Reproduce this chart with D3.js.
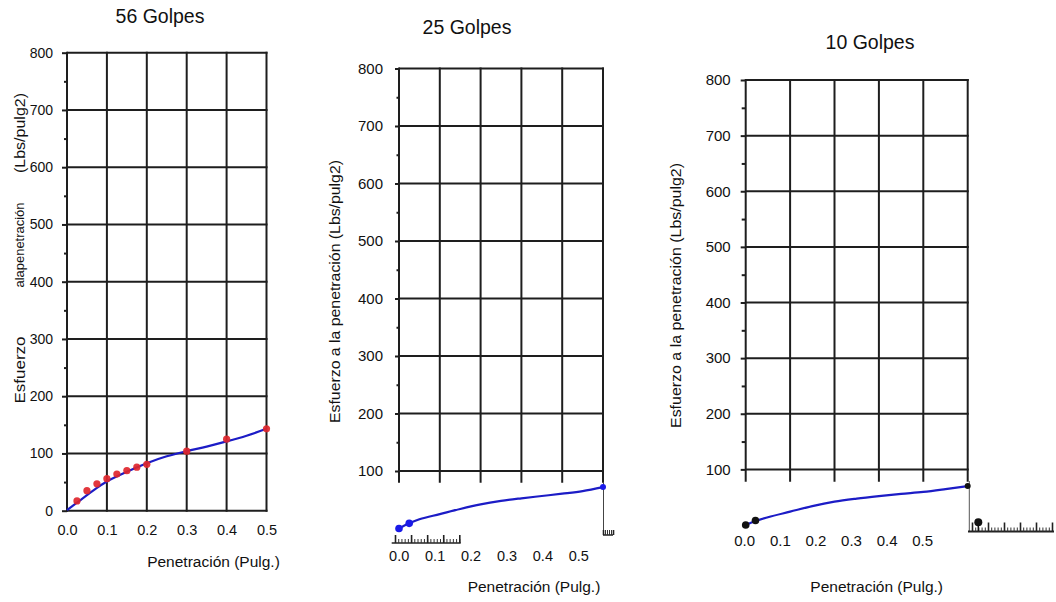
<!DOCTYPE html>
<html><head><meta charset="utf-8">
<script src="https://cdn.jsdelivr.net/npm/d3@7"></script>
<style>
body{margin:0;background:#fff}
svg{display:block}
text{font-family:"Liberation Sans",Arial,sans-serif;fill:#111}
</style>
</head><body>
<svg id="c" width="1056" height="602"></svg>
<script>
// ---------- data ----------
const titles = ["56 Golpes", "25 Golpes", "10 Golpes"];
const xTicks = [0, 0.1, 0.2, 0.3, 0.4, 0.5];
const yTicksFull = [0, 100, 200, 300, 400, 500, 600, 700, 800];
const yTicksCut = [100, 200, 300, 400, 500, 600, 700, 800];
const yMinorFull = [50, 150, 250, 350, 450, 550, 650, 750];
const yMinorCut = [150, 250, 350, 450, 550, 650, 750];
const xTitle = "Penetración (Pulg.)";
const yTitle = "Esfuerzo a la penetración (Lbs/pulg2)";
const yTitle56 = ["Esfuerzo", "alapenetración", "(Lbs/pulg2)"];

// 56 golpes: measured points and fitted curve
const pen56 = [0.025, 0.05, 0.075, 0.1, 0.125, 0.15, 0.175, 0.2, 0.3, 0.4, 0.5];
const esf56 = [17, 35, 47, 56, 64, 70, 76, 81, 104, 125, 143];
const curvePen56 = [0, 0.025, 0.05, 0.075, 0.1, 0.15, 0.2, 0.25, 0.3, 0.35, 0.4, 0.45, 0.5];
const curveEsf56 = [1, 14, 27, 40, 51, 68, 83, 95, 104, 112, 121, 131, 143];

// 25 golpes
const pen25 = [0, 0.025, 0.5];
const esf25 = [0, 9, 72];
const curvePen25 = [0, 0.025, 0.05, 0.1, 0.15, 0.2, 0.25, 0.3, 0.35, 0.4, 0.45, 0.5];
const curveEsf25 = [0, 9, 16, 25, 34, 42, 48, 52.5, 56.5, 60.5, 65, 72];

// 10 golpes
const pen10 = [0, 0.022, 0.5];
const esf10 = [0, 8, 70];
const curvePen10 = [0, 0.025, 0.05, 0.1, 0.15, 0.2, 0.25, 0.3, 0.35, 0.4, 0.45, 0.5];
const curveEsf10 = [0, 8, 14, 24, 34, 42, 47.5, 52, 56, 59.5, 64.5, 70];

// ---------- drawing ----------
const svg = d3.select("#c");
const GRID = "#1e1e1e";
const BLUE = "#1c1cc6";

function zip(a, b) { return a.map((v, i) => [v, b[i]]); }

function styleAxis(g) {
  g.select(".domain").remove();
  g.selectAll(".tick line").attr("stroke", GRID).attr("stroke-width", 2);
}

function panel(cfg) {
  const g = svg.append("g");
  const x = d3.scaleLinear().domain([0, 0.5]).range(cfg.xr);
  const y = d3.scaleLinear().domain([0, 800]).range(cfg.yr);

  g.append("text").attr("x", cfg.titleX).attr("y", cfg.titleY)
    .attr("text-anchor", "middle").style("font-size", "19.5px").text(cfg.title);

  g.append("g").selectAll("line").data(cfg.yTicks).join("line")
    .attr("x1", x(0)).attr("x2", x(0.5) + 1)
    .attr("y1", d => y(d)).attr("y2", d => y(d))
    .attr("stroke", GRID).attr("stroke-width", 2);
  g.append("g").selectAll("line").data(xTicks).join("line")
    .attr("x1", d => x(d)).attr("x2", d => x(d))
    .attr("y1", y(800) - 1).attr("y2", cfg.gridBottom)
    .attr("stroke", GRID).attr("stroke-width", 2);

  const ya = g.append("g").attr("transform", `translate(${x(0)},0)`)
    .call(d3.axisLeft(y).tickValues(cfg.yTicks).tickSize(cfg.tickLen)
      .tickPadding(cfg.tickPad).tickFormat(d3.format("d")));
  styleAxis(ya);
  ya.selectAll("text").style("font-size", cfg.yFont + "px").attr("fill", "#111");
  const ym = g.append("g").attr("transform", `translate(${x(0)},0)`)
    .call(d3.axisLeft(y).tickValues(cfg.minor).tickSize(cfg.minorLen).tickFormat(""));
  styleAxis(ym);

  return { g, x, y };
}

// decorative scale strip
function ruler(g, x0, x1, ext0, ext1, yBase, nMajor, perMajor, majLen, minLen, w) {
  const s = d3.scaleLinear().domain([0, nMajor]).range([x0, x1]);
  const minorVals = d3.range(0, nMajor * perMajor + 1).map(i => i / perMajor);
  const a = g.append("g").attr("transform", `translate(0,${yBase})`)
    .call(d3.axisTop(s).tickValues(minorVals).tickSize(minLen).tickFormat(""));
  a.select(".domain").attr("d", `M${ext0},0H${ext1}`).attr("stroke", "#222").attr("stroke-width", w);
  a.selectAll(".tick line").attr("stroke", "#333").attr("stroke-width", 1);
  const b = g.append("g").attr("transform", `translate(0,${yBase})`)
    .call(d3.axisTop(s).tickValues(d3.range(0, nMajor + 1)).tickSize(majLen).tickFormat(""));
  b.select(".domain").remove();
  b.selectAll(".tick line").attr("stroke", "#222").attr("stroke-width", 1.6);
}

// ---- Panel 1: 56 Golpes ----
{
  const { g, x, y } = panel({
    title: titles[0], titleX: 160, titleY: 23,
    xr: [67, 266.5], yr: [510.7, 52.7], gridBottom: 511.7,
    yTicks: yTicksFull, minor: yMinorFull, tickLen: 5, minorLen: 3, tickPad: 9, yFont: 14
  });
  const xa = g.append("g").attr("transform", `translate(0,${y(0)})`)
    .call(d3.axisBottom(x).tickValues(xTicks).tickSize(0).tickPadding(0).tickFormat(d3.format(".1f")));
  xa.select(".domain").remove();
  xa.selectAll("text").attr("dy", 0).attr("y", 24.5).style("font-size", "14.5px").attr("fill", "#111");

  g.append("text").attr("x", 213.5).attr("y", 567).attr("text-anchor", "middle")
    .style("font-size", "15.5px").text(xTitle);

  const yl = [
    { t: yTitle56[0], cy: 370, fs: 15, len: 67, bx: 24.5 },
    { t: yTitle56[1], cy: 245, fs: 12.5, len: 85, bx: 23.5 },
    { t: yTitle56[2], cy: 133, fs: 14.5, len: 80, bx: 24.5 }
  ];
  g.append("g").selectAll("text").data(yl).join("text")
    .attr("transform", d => `translate(${d.bx},${d.cy}) rotate(-90)`)
    .attr("text-anchor", "middle")
    .attr("textLength", d => d.len).attr("lengthAdjust", "spacingAndGlyphs")
    .style("font-size", d => d.fs + "px").text(d => d.t);

  const line = d3.line().x(d => x(d[0])).y(d => y(d[1])).curve(d3.curveMonotoneX);
  g.append("path").datum(zip(curvePen56, curveEsf56)).attr("d", line)
    .attr("fill", "none").attr("stroke", BLUE).attr("stroke-width", 2.2);
  g.append("g").selectAll("circle").data(zip(pen56, esf56)).join("circle")
    .attr("cx", d => x(d[0])).attr("cy", d => y(d[1])).attr("r", 3.6)
    .attr("fill", "#e0262c").attr("opacity", 0.92);
}

// ---- Panel 2: 25 Golpes ----
{
  const { g, x, y } = panel({
    title: titles[1], titleX: 467, titleY: 34.3,
    xr: [399, 603], yr: [528.5, 68.5], gridBottom: 482.7,
    yTicks: yTicksCut, minor: yMinorCut, tickLen: 4, minorLen: 2.5, tickPad: 12, yFont: 15
  });
  const xi = d3.scaleLinear().domain([0, 0.5]).range([398.7, 578.3]);
  const xa = g.append("g").attr("transform", "translate(0,560.7)")
    .call(d3.axisBottom(xi).tickValues(xTicks).tickSize(0).tickPadding(0).tickFormat(d3.format(".1f")));
  xa.select(".domain").remove();
  xa.selectAll("text").attr("dy", 0).attr("y", 0).style("font-size", "14.5px").attr("fill", "#111");

  g.append("text").attr("x", 534).attr("y", 592).attr("text-anchor", "middle")
    .style("font-size", "15.5px").text(xTitle);
  g.append("text").attr("transform", "translate(340,291.5) rotate(-90)")
    .attr("text-anchor", "middle").attr("textLength", 263).attr("lengthAdjust", "spacingAndGlyphs")
    .style("font-size", "15.5px").text(yTitle);

  g.append("line").attr("x1", x(0.5) + 0.5).attr("x2", x(0.5) + 0.5).attr("y1", 482).attr("y2", 532)
    .attr("stroke", "#444").attr("stroke-width", 1);
  ruler(g, 395, 459.3, 391.7, 460.7, 543, 4, 5, 8, 4, 1.6);
  ruler(g, 603, 613, 603, 613, 535, 1, 5, 5, 5, 1.5);

  const line = d3.line().x(d => x(d[0])).y(d => y(d[1])).curve(d3.curveMonotoneX);
  g.append("path").datum(zip(curvePen25, curveEsf25)).attr("d", line)
    .attr("fill", "none").attr("stroke", BLUE).attr("stroke-width", 2.2);
  g.append("g").selectAll("circle").data(zip(pen25, esf25)).join("circle")
    .attr("cx", d => x(d[0])).attr("cy", d => y(d[1])).attr("r", (d, i) => i === 2 ? 3 : 3.8)
    .attr("fill", "#1a1ae8");
}

// ---- Panel 3: 10 Golpes ----
{
  const { g, x, y } = panel({
    title: titles[2], titleX: 870, titleY: 49.3,
    xr: [745.7, 967.7], yr: [525, 80], gridBottom: 481.7,
    yTicks: yTicksCut, minor: yMinorCut, tickLen: 5, minorLen: 4, tickPad: 10, yFont: 15
  });
  const xi = d3.scaleLinear().domain([0, 0.5]).range([744.2, 922.2]);
  const xa = g.append("g").attr("transform", "translate(0,546)")
    .call(d3.axisBottom(xi).tickValues(xTicks).tickSize(0).tickPadding(0).tickFormat(d3.format(".1f")));
  xa.select(".domain").remove();
  xa.selectAll("text").attr("dy", 0).attr("y", 0).style("font-size", "15px").attr("fill", "#111");

  g.append("text").attr("x", 876.7).attr("y", 592).attr("text-anchor", "middle")
    .style("font-size", "15.5px").text(xTitle);
  g.append("text").attr("transform", "translate(681,295.5) rotate(-90)")
    .attr("text-anchor", "middle").attr("textLength", 265).attr("lengthAdjust", "spacingAndGlyphs")
    .style("font-size", "15.5px").text(yTitle);

  g.append("line").attr("x1", 969.3).attr("x2", 969.3).attr("y1", 481).attr("y2", 531)
    .attr("stroke", "#555").attr("stroke-width", 1);
  ruler(g, 972, 1052, 968, 1054, 531.5, 5, 5, 9, 4, 2);
  g.append("line").attr("x1", 978.3).attr("x2", 978.3).attr("y1", 522).attr("y2", 531)
    .attr("stroke", "#111").attr("stroke-width", 1.5);
  g.append("circle").attr("cx", 978.3).attr("cy", 522.3).attr("r", 4).attr("fill", "#111");

  const line = d3.line().x(d => x(d[0])).y(d => y(d[1])).curve(d3.curveMonotoneX);
  g.append("path").datum(zip(curvePen10, curveEsf10)).attr("d", line)
    .attr("fill", "none").attr("stroke", BLUE).attr("stroke-width", 2.2);
  g.append("g").selectAll("circle").data(zip(pen10, esf10)).join("circle")
    .attr("cx", d => x(d[0])).attr("cy", d => y(d[1])).attr("r", (d, i) => i === 2 ? 3 : 3.8)
    .attr("fill", "#111");
}
</script>
</body></html>
